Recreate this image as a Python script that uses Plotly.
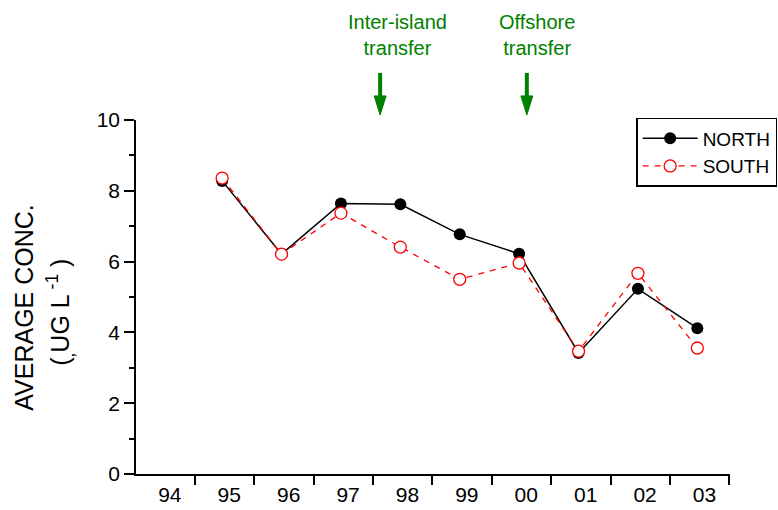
import plotly.graph_objects as go

# ---- data ----
years = [1995, 1996, 1997, 1998, 1999, 2000, 2001, 2002, 2003]
north = [8.28, 6.21, 7.64, 7.62, 6.77, 6.22, 3.42, 5.23, 4.12]
south = [8.36, 6.21, 7.37, 6.41, 5.50, 5.96, 3.47, 5.67, 3.56]
label_years = [1994, 1995, 1996, 1997, 1998, 1999, 2000, 2001, 2002, 2003]
tick_labels = ["94", "95", "96", "97", "98", "99", "00", "01", "02", "03"]
events = ["Inter-island<br>transfer", "Offshore<br>transfer"]
event_x = [1997.66, 2000.13]
event_text_x = [1997.95, 2000.30]

FONT = "Liberation Sans, Arial, sans-serif"
GREEN = "#008000"

fig = go.Figure()
fig.add_trace(go.Scatter(
    x=years, y=north, name="NORTH", mode="lines+markers",
    line=dict(color="black", width=1.5),
    marker=dict(symbol="circle", size=12, color="black"),
    cliponaxis=False,
))
fig.add_trace(go.Scatter(
    x=years, y=south, name="SOUTH", mode="lines+markers",
    line=dict(color="#ff0000", width=1.3, dash="6px,6px"),
    marker=dict(symbol="circle", size=12, color="white",
                line=dict(color="#ff0000", width=1.3)),
    cliponaxis=False,
))
# invisible trace on second x-axis just to carry tick labels
fig.add_trace(go.Scatter(x=[label_years[0]], y=[0], xaxis="x2", showlegend=False,
                         mode="markers", marker=dict(opacity=0), hoverinfo="skip"))

xr = [1993.55, 2003.55]
fig.update_layout(
    width=778, height=510,
    margin=dict(l=136, r=48, t=120, b=36, autoexpand=False),
    paper_bgcolor="white", plot_bgcolor="white",
    font=dict(family=FONT, color="black", size=21),
    xaxis=dict(range=xr, showgrid=False, zeroline=False,
               showline=True, linecolor="black", linewidth=1.5,
               ticks="outside", ticklen=9, tickwidth=1.5, tickcolor="black",
               tick0=1993.54, dtick=1, showticklabels=False),
    xaxis2=dict(range=xr, overlaying="x", anchor="y", side="bottom",
                showgrid=False, zeroline=False, showline=False,
                tickmode="array", tickvals=[v + 0.12 for v in label_years],
                ticktext=tick_labels, ticks="", ticklen=0,
                ticklabelstandoff=6,
                tickfont=dict(size=21, family=FONT, color="black")),
    yaxis=dict(range=[0, 10], showgrid=False, zeroline=False,
               showline=True, linecolor="black", linewidth=1.5,
               ticks="outside", ticklen=10, tickwidth=1.5, tickcolor="black",
               tick0=0, dtick=2, tickfont=dict(size=21),
               minor=dict(ticks="outside", ticklen=5, tickwidth=1.5,
                          tickcolor="black", dtick=1)),
    legend=dict(x=0.842, y=1.006, xanchor="left", yanchor="top",
                bordercolor="black", borderwidth=1.5, bgcolor="white",
                font=dict(size=19, family=FONT), tracegroupgap=0,
                itemwidth=55),
    showlegend=True,
)

# y-axis title (two lines)
fig.add_annotation(xref="paper", yref="paper", x=-0.19, y=0.47,
                   text="AVERAGE CONC.", textangle=-90, showarrow=False,
                   font=dict(size=25, family=FONT, color="black"),
                   xanchor="center", yanchor="middle")
fig.add_annotation(xref="paper", yref="paper", x=-0.128, y=0.458,
                   text="(<sub>,</sub>UG L<sup> -1</sup> )", textangle=-90, showarrow=False,
                   font=dict(size=25, family=FONT, color="black"),
                   xanchor="center", yanchor="middle")

# event arrows (shaft + head) and labels
for ex, tx, txt in zip(event_x, event_text_x, events):
    fig.add_shape(type="line", xref="x", yref="paper",
                  x0=ex, x1=ex, y0=1.133, y1=1.06,
                  line=dict(color=GREEN, width=4))
    fig.add_shape(type="path", xref="x", yref="paper",
                  path=f"M {ex-0.1},1.068 L {ex+0.1},1.068 L {ex},1.014 Z",
                  fillcolor=GREEN, line=dict(color=GREEN, width=1))
    fig.add_annotation(x=tx, xref="x", y=1.24, yref="paper", text=txt,
                       showarrow=False, yanchor="middle", xanchor="center",
                       font=dict(size=20, family=FONT, color=GREEN))

fig.write_html("out.html")
